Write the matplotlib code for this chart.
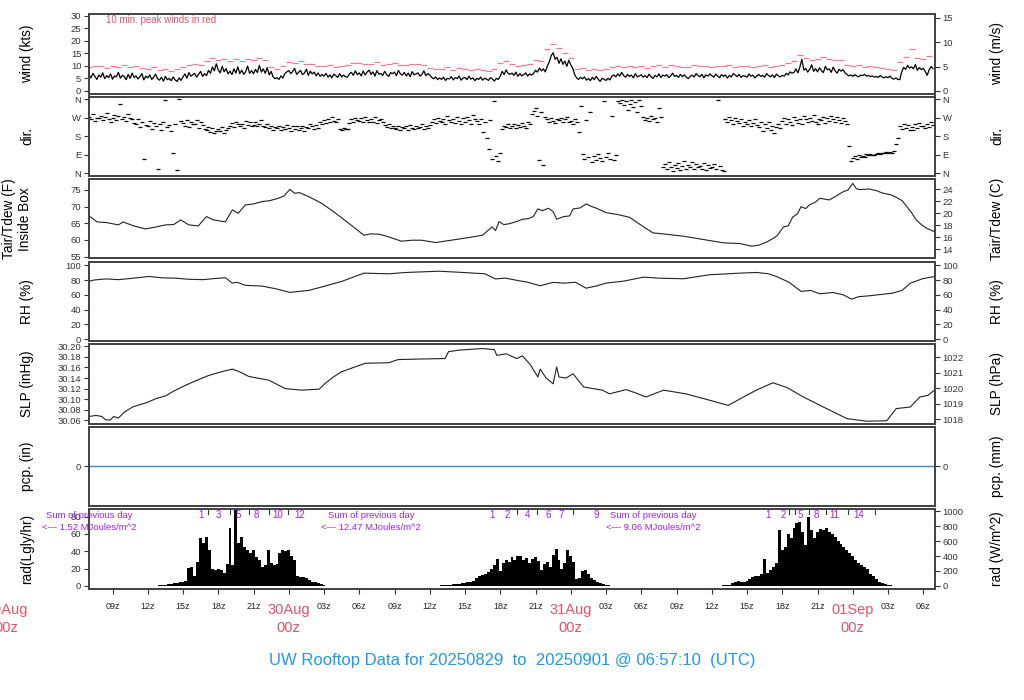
import numpy as np
import matplotlib
matplotlib.use("Agg")
import matplotlib.pyplot as plt
from matplotlib.transforms import blended_transform_factory as btf

plt.rcParams['font.family'] = ['Liberation Sans', 'DejaVu Sans']

# ---------------- data (hours since 29Aug 00z) ----------------
wind_start = 7.0          # 10-minute samples
wind_kts = [
    6.5, 5.2, 7.0, 5.8, 4.6, 6.3,  5.5, 7.2, 4.9, 6.1, 5.3, 6.8,
    4.7, 6.0, 5.6, 7.4, 5.1, 6.2,  5.8, 4.5, 6.6, 5.0, 7.1, 5.4,
    6.0, 4.8, 5.7, 6.9, 4.4, 5.9,  5.2, 6.4, 4.6, 5.5, 6.7, 4.9,
    4.3, 5.4, 3.9, 5.8, 4.5, 5.0,  4.1, 5.6, 4.4, 3.8, 5.2, 4.2,
    5.6, 6.8, 5.1, 7.3, 5.9, 6.4,  7.0, 5.5, 6.7, 7.8, 5.8, 6.9,
    6.1, 8.2, 7.0, 9.5, 8.0, 10.8, 8.4, 7.2, 9.8, 7.6, 8.9, 6.8,
    7.9, 6.5, 8.8, 7.1, 9.6, 6.9,  8.3, 6.6, 7.7, 9.9, 7.0, 8.1,
    6.8, 8.6, 7.3, 10.2, 7.5, 8.8, 7.0, 9.3, 6.4, 7.8, 5.6, 4.9,
    5.3, 4.6, 6.0, 5.1, 6.9, 7.6,  8.1, 6.9, 7.7, 9.0, 6.6, 7.4,
    8.2, 6.5, 7.1, 8.7, 6.2, 7.9,  6.8, 7.5, 6.0, 7.2, 5.8, 6.6,
    5.9, 7.0, 5.5, 6.4, 5.2, 6.7,  6.1, 5.4, 6.9, 5.6, 6.3, 5.7,
    5.5, 6.8, 7.4, 6.2, 8.0, 6.5,  7.2, 6.0, 7.9, 6.4, 7.5, 8.3,
    6.6, 7.6, 5.9, 8.1, 6.7, 7.0,  6.2, 7.8, 6.5, 5.8, 7.3, 6.9,
    7.5, 6.1, 8.2, 6.8, 6.3, 7.4,  6.0, 7.1, 5.7, 7.7, 6.4, 6.8,
    7.2, 5.9, 6.6, 8.0, 6.1, 6.9,  6.3, 5.4, 4.8, 5.6, 4.5, 5.2,
    4.6, 5.5, 4.2, 5.0, 4.8, 5.7,  4.4, 5.3, 4.9, 5.9, 4.3, 5.1,
    5.4, 4.5, 5.8, 4.7, 5.2, 4.1,  5.0, 4.6, 5.5, 4.3, 5.1, 4.7,
    4.2, 5.3, 4.8, 3.9, 5.0, 4.6,  5.9, 7.8, 6.5, 8.4, 7.0, 6.6,
    7.1, 6.2, 7.5, 5.8, 6.9, 6.0,  6.5, 7.2, 5.9, 6.8, 6.3, 7.0,
    8.2, 7.5, 9.1, 8.0, 8.8, 7.6,  9.8, 11.5, 14.0, 15.2, 12.6, 13.4,
    11.0, 12.8, 10.6, 11.9, 9.8, 12.2, 10.4, 9.1, 6.5, 5.2, 4.6, 5.5,
    4.8, 5.6, 4.3, 5.0, 4.1, 5.4,  4.5, 5.8, 4.7, 3.8, 5.1, 4.6,
    4.2, 5.0, 4.4, 5.9, 6.4, 5.6,  6.8, 5.9, 7.4, 6.1, 5.5, 6.6,
    5.8, 6.3, 5.2, 6.9, 5.6, 6.0,  6.4, 5.5, 6.1, 5.3, 6.7, 5.7,
    5.0, 6.2, 5.6, 6.8, 5.4, 6.3,  5.9, 6.5, 5.3, 6.0, 7.1, 5.8,
    6.2, 5.4, 6.6, 5.7, 6.4, 5.5,  4.9, 5.8, 6.3, 5.6, 6.9, 6.1,
    5.7, 6.6, 5.2, 6.4, 5.9, 6.8,  6.1, 5.5, 6.7, 6.0, 5.3, 6.5,
    5.8, 6.4, 5.1, 6.2, 5.6, 6.9,  6.3, 5.7, 6.6, 5.4, 6.1, 5.9,
    5.5, 6.8, 5.9, 6.3, 5.2, 6.0,  6.6, 5.8, 6.2, 5.5, 6.9, 6.1,
    5.7, 6.4, 5.3, 6.7, 6.0, 5.6,  6.2, 5.9, 7.0, 6.4, 7.6, 7.1,
    7.4, 8.8, 7.2, 9.5, 12.6, 8.3, 9.0, 7.5, 8.6, 10.4, 7.8, 8.9,
    7.6, 9.2, 8.1, 7.3, 9.8, 8.4,  8.8, 7.4, 9.5, 8.0, 7.1, 8.6,
    7.9, 8.5, 7.2, 6.6, 6.0, 6.4,  5.8, 6.5, 6.0, 5.6, 6.3, 6.1,
    6.6, 5.9, 6.2, 5.7, 6.0, 5.5,  5.8, 5.4, 6.1, 5.6, 5.2, 5.7,
    5.3, 5.9, 5.0, 4.7, 5.2, 4.6,  4.5, 7.6, 9.4, 8.6, 10.2, 9.1,
    9.6, 8.8, 10.5, 8.2, 9.3, 8.5, 9.0, 7.8, 6.2, 8.4, 9.7, 8.9,
]
gust_start = 7.0          # 30-minute peaks
gust_kts = [
    9.5, 10.0, 9.8, 9.2, 10.1, 9.6, 10.3, 9.4, 9.9, 9.1, 8.9, 9.5,
    8.4, 8.8, 8.0, 8.6, 9.6, 10.4, 10.8, 10.2, 11.9, 13.0, 12.4, 12.8,
    11.8, 12.6, 12.1, 12.9, 12.5, 13.0, 12.2, 9.6, 8.8, 10.1, 11.5, 11.0,
    11.8, 10.9, 10.6, 10.1, 9.8, 10.2, 9.4, 9.9, 10.3, 11.2, 11.0, 10.8,
    10.7, 11.4, 10.5, 10.9, 11.1, 10.4, 10.2, 10.8, 10.9, 10.3, 9.2, 8.6,
    8.9, 9.4, 8.5, 9.0, 8.8, 8.3, 8.7, 8.2, 8.1, 8.6, 11.3, 11.8,
    10.6, 10.1, 10.4, 10.9, 12.4, 12.0, 16.5, 18.6, 17.2, 15.1, 13.2, 8.6,
    9.0, 8.4, 8.8, 8.5, 8.7, 9.6, 10.1, 9.6, 9.9, 9.4, 10.0, 9.3,
    9.8, 10.2, 9.6, 10.5, 9.9, 9.5, 9.7, 10.3, 10.1, 9.8, 9.6, 10.0,
    9.9, 10.2, 9.5, 9.8, 10.1, 9.6, 9.8, 10.3, 9.4, 9.9, 10.3, 11.0,
    12.0, 14.2, 13.0, 12.5, 12.8, 13.4, 12.6, 12.2, 12.4, 10.5, 9.8, 10.2,
    9.6, 10.0, 9.4, 9.1, 8.8, 8.5, 11.5, 13.6, 16.5, 13.2, 12.8, 14.0,
]
dir_start = 7.0           # 10-minute samples, degrees
wind_dir = [
    275, 262, 290, 255, 270, 268,  280, 258, 272, 295, 265, 250,
    268, 285, 260, 278, 340, 262,  275, 255, 288, 270, 262, 245,
    240, 262, 225, 250, 70, 235,   228, 255, 215, 245, 232, 20,
    240, 210, 250, 355, 225, 235,  205, 100, 240, 15, 360, 255,
    245, 232, 258, 226, 250, 240,  238, 260, 222, 248, 235, 215,
    212, 225, 200, 218, 195, 208,  215, 205, 225, 198, 210, 220,
    232, 245, 225, 250, 238, 228,  240, 222, 255, 235, 248, 230,
    236, 250, 228, 242, 260, 232,  225, 238, 218, 230, 212, 224,
    218, 230, 210, 225, 215, 235,  222, 208, 228, 216, 230, 212,
    220, 232, 205, 226, 218, 240,  228, 215, 236, 222, 250, 238,
    258, 245, 265, 250, 272, 255,  250, 262, 215, 212, 218, 214,
    216, 245, 262, 250, 270, 258,  255, 268, 248, 275, 260, 252,
    262, 250, 272, 245, 258, 265,  248, 235, 225, 240, 218, 230,
    222, 215, 230, 210, 226, 218,  228, 212, 235, 220, 216, 232,
    218, 225, 240, 214, 230, 222,  235, 250, 262, 245, 270, 255,
    248, 265, 240, 280, 258, 250,  262, 245, 275, 255, 238, 268,
    250, 272, 258, 242, 285, 262,  255, 238, 265, 200, 248, 170,
    120, 260, 70, 350, 85, 60,     100, 215, 232, 225, 240, 220,
    228, 242, 218, 236, 225, 245,  232, 220, 250, 238, 290, 305,
    320, 280, 65, 300, 40, 275,    262, 250, 270, 255, 245, 265,
    258, 268, 248, 262, 275, 250,  255, 240, 265, 250, 200, 330,
    95, 70, 260, 80, 300, 55,      85, 65, 95, 75, 60, 350,
    80, 100, 70, 280, 65, 90,      350, 345, 358, 335, 352, 310,
    340, 355, 325, 348, 300, 355,  330, 275, 260, 268, 255, 280,
    262, 270, 250, 320, 275, 30,   45, 20, 55, 30, 10, 40,
    25, 50, 15, 35, 60, 20,        40, 28, 52, 18, 45, 30,
    35, 22, 48, 15, 40, 25,        30, 45, 20, 358, 35, 15,
    10, 265, 250, 275, 258, 240,   268, 255, 245, 262, 232, 250,
    240, 258, 228, 245, 262, 235,  225, 248, 205, 238, 220, 252,
    212, 230, 195, 225, 242, 218,  255, 268, 240, 262, 250, 235,
    272, 258, 245, 265, 238, 280,  262, 248, 270, 255, 285, 250,
    240, 265, 258, 275, 245, 268,  255, 280, 262, 248, 272, 260,
    245, 268, 255, 240, 130, 60,   75, 82, 70, 88, 78, 85,
    80, 92, 86, 95, 88, 90,        94, 98, 92, 100, 96, 102,
    98, 104, 100, 106, 140, 170,   230, 215, 240, 222, 235, 210,
    225, 212, 238, 220, 245, 228,  232, 218, 240, 226, 250, 236,
]
temp_hr = [7.0, 7.7, 8.5, 9.5, 9.9, 10.8, 11.8, 12.6, 13.5, 14.2, 14.8, 15.5,
           16.3, 17.0, 17.6, 18.6, 19.2, 19.7, 20.3, 21.0, 21.7, 22.4, 23.1,
           23.6, 24.1, 24.5, 24.9, 25.7, 26.8, 28.0, 29.1, 30.4, 31.0, 31.7,
           32.5, 33.6, 34.5, 35.3, 36.5, 38.2, 39.5, 40.5, 41.3, 41.6, 41.9,
           42.3, 42.7, 43.3, 43.9, 44.4, 44.8, 45.2, 45.6, 46.1, 46.5, 46.8,
           47.4, 47.9, 48.2, 48.8, 49.3, 49.8, 50.2, 51.0, 52.0, 53.0, 54.2,
           55.0, 56.1, 57.6, 59.3, 61.0, 62.4, 63.4, 64.0, 64.7, 65.3, 65.6,
           66.1, 66.5, 66.9, 67.3, 67.6, 68.0, 68.3, 68.8, 69.2, 70.0, 70.6,
           71.2, 71.6, 72.0, 72.3, 72.6, 73.4, 74.0, 74.6, 75.2, 75.7, 76.2,
           76.6, 77.0, 77.4, 77.9, 78.3, 79.0]
temp_f = [67.2, 65.4, 65.2, 64.5, 65.4, 64.2, 63.3, 63.8, 64.5, 64.6, 66.0, 64.5,
          64.2, 67.0, 66.0, 65.4, 69.0, 68.0, 70.5, 70.8, 71.5, 71.8, 72.5,
          73.2, 75.2, 74.0, 74.2, 73.0, 71.0, 68.0, 65.0, 61.4, 61.8, 61.7,
          60.9, 59.6, 59.9, 59.9, 59.2, 60.1, 60.8, 61.4, 63.9, 62.8, 65.5,
          64.6, 64.8, 65.4, 66.2, 66.4, 67.0, 69.3, 68.8, 69.5, 68.5, 66.2,
          67.0, 67.2, 69.3, 69.6, 70.8, 70.0, 69.5, 68.2, 67.6, 66.8, 63.9,
          62.1, 61.7, 61.1, 60.1, 59.1, 58.9, 58.1, 58.4, 59.4, 60.6, 61.4,
          63.9, 64.2, 66.9, 67.8, 70.0, 69.4, 70.5, 71.3, 72.5, 72.0, 73.2,
          74.5, 75.0, 77.0, 75.4, 75.1, 75.3, 74.8, 74.0, 73.6, 72.8, 71.8,
          70.0, 68.2, 66.0, 64.4, 63.5, 62.4]
rh_hr = [7.0, 7.4, 8.5, 9.5, 10.5, 12.1, 13.2, 14.4, 15.5, 16.7, 17.7, 18.6,
         19.2, 19.6, 20.3, 21.7, 22.9, 24.1, 24.8, 25.7, 26.8, 28.5, 30.4,
         32.5, 34.0, 36.8, 38.8, 40.7, 41.6, 42.4, 43.6, 44.2, 45.4, 46.5,
         47.5, 48.4, 49.3, 50.2, 51.0, 52.5, 54.2, 55.5, 57.6, 59.8, 62.4,
         63.8, 64.8, 65.5, 66.6, 67.6, 68.4, 69.2, 70.3, 71.2, 71.9, 72.5,
         73.4, 75.4, 76.2, 76.9, 78.0, 79.0]
rh_pct = [78.1, 80.0, 81.5, 80.5, 82.0, 84.8, 83.0, 82.5, 81.0, 80.5, 82.0, 83.1,
          75.8, 77.0, 72.8, 71.9, 68.2, 63.3, 64.5, 66.0, 70.6, 78.1, 89.3,
          88.4, 90.2, 91.9, 90.2, 88.4, 81.4, 82.7, 79.0, 77.5, 72.3, 76.8,
          75.8, 77.0, 69.0, 72.0, 75.8, 78.5, 83.9, 82.5, 81.7, 87.1, 89.3,
          90.2, 88.5, 84.8, 76.8, 64.6, 66.0, 61.4, 63.2, 60.0, 54.2, 57.5,
          58.7, 62.3, 66.0, 75.8, 82.0, 84.8]
slp_hr = [7.0, 7.6, 8.1, 8.4, 8.8, 9.1, 9.5, 10.0, 10.7, 11.4, 12.0, 12.7, 13.5,
          14.2, 14.9, 16.0, 17.2, 18.3, 19.2, 19.8, 20.6, 21.3, 22.3, 23.0,
          23.7, 25.1, 26.6, 27.1, 27.8, 28.5, 29.5, 30.5, 32.5, 33.3, 35.0,
          37.3, 37.6, 38.5, 40.5, 41.5, 41.7, 42.5, 43.4, 43.9, 44.6, 45.2,
          45.4, 45.9, 46.5, 46.8, 47.0, 47.6, 48.2, 49.1, 50.7, 51.3, 52.7,
          53.5, 54.4, 55.9, 57.8, 59.8, 61.4, 62.7, 63.8, 65.2, 66.4, 67.8,
          69.5, 71.5, 73.2, 74.9, 75.7, 76.9, 77.7, 78.4, 79.0]
slp_inhg = [30.067, 30.069, 30.067, 30.061, 30.060, 30.067, 30.064, 30.075,
            30.085, 30.090, 30.094, 30.101, 30.106, 30.115, 30.123, 30.134,
            30.145, 30.152, 30.157, 30.152, 30.143, 30.140, 30.136, 30.128,
            30.120, 30.117, 30.119, 30.130, 30.142, 30.152, 30.160, 30.168,
            30.169, 30.175, 30.176, 30.177, 30.190, 30.193, 30.196, 30.194,
            30.183, 30.186, 30.177, 30.182, 30.164, 30.142, 30.157, 30.140,
            30.129, 30.161, 30.142, 30.140, 30.148, 30.123, 30.117, 30.110,
            30.118, 30.112, 30.104, 30.117, 30.110, 30.098, 30.088, 30.104,
            30.117, 30.131, 30.122, 30.104, 30.085, 30.063, 30.058, 30.059,
            30.082, 30.085, 30.104, 30.107, 30.118]
pcp_hr = [7.0, 79.0]
pcp_in = [0.0, 0.0]
rad_starts = [13.0, 37.0, 61.0]      # 15-minute samples
rad_day1 = [0.5, 1, 1.5, 2, 2.5, 3, 3.5, 4, 5, 6, 21, 22, 12, 28, 55, 50, 57, 42,
            20, 18, 19, 18, 15, 25, 67, 24, 88, 50, 56, 45, 42, 38, 41, 33, 30,
            22, 24, 42, 26, 24, 25, 38, 42, 40, 41, 35, 30, 12, 10, 10, 9, 7, 5,
            4, 3, 2, 1]
rad_day2 = [0.5, 1, 1, 1.5, 2, 2, 2.5, 3, 3, 4, 5, 6, 9, 12, 13, 14, 16, 20, 24,
            31, 17, 26, 30, 28, 33, 30, 35, 34, 30, 32, 27, 31, 33, 29, 18, 25,
            28, 22, 36, 43, 30, 20, 26, 42, 35, 28, 8, 9, 17, 18, 14, 9, 7, 5,
            3, 2, 1, 0.5]
rad_day3 = [0.5, 1, 1.5, 3, 5, 6, 5, 5, 6, 8, 10, 12, 12, 14, 31, 15, 18, 22, 26,
            64, 41, 45, 60, 55, 67, 73, 74, 62, 47, 79, 64, 55, 62, 66, 64, 67,
            62, 60, 57, 52, 48, 45, 41, 38, 35, 30, 26, 24, 22, 20, 14, 11, 8,
            5, 3, 2, 1, 0.5]
cum_hr = [[16.5, 17.1, 18.0, 19.0, 19.7, 20.6, 21.2, 22.3, 23.1, 23.9, 24.9],
          [41.3, 42.6, 43.4, 44.3, 45.1, 46.1, 47.2, 48.2, 50.2],
          [64.8, 66.1, 66.6, 67.1, 67.5, 68.3, 68.9, 69.7, 70.4, 71.6, 72.5, 73.9]]
cum_lab = [['1', "'", '3', "'", '5', "'", '8', "'", '10', "'", '12'],
           ['1', '2', "'", '4', "'", '6', '7', "'", '9'],
           ['1', '2', "'", "'", '5', "'", '8', "'", '11', "'", '14', "'"]]
sum_hr = [7.0, 31.0, 55.0]
sum_mj = ['1.52', '12.47', '9.06']
hour_ticks = [9, 12, 15, 18, 21, 27, 30, 33, 36, 39, 42, 45, 51, 54, 57, 60,
              63, 66, 69, 75, 78]
hour_labels = ['09z', '12z', '15z', '18z', '21z', '03z', '06z', '09z', '12z',
               '15z', '18z', '21z', '03z', '06z', '09z', '12z', '15z', '18z',
               '21z', '03z', '06z']
day_hr = [0, 24, 48, 72]
day_labels = ['29Aug', '30Aug', '31Aug', '01Sep']
long_ticks = [12, 24, 36, 48, 60, 72]

# ---------------- layout ----------------
W, H = 1024, 700
fig = plt.figure(figsize=(W / 100, H / 100), dpi=100)
X0, X1 = 89, 935
TOPS = [14, 96.5, 179, 261.5, 344, 426.5, 509]
PH = 79.5
XMIN, XMAX = 7.0, 79.0
RED = '#DF536B'
PURPLE = '#A020F0'
BLUE = '#2297E6'
FRAME = '#444444'
TICKC = '#333333'


def fy(y):
    return 1 - y / H


def style(ax):
    for s in ax.spines.values():
        s.set_color(FRAME)
        s.set_linewidth(1.3)
    ax.tick_params(axis='y', direction='out', length=3.5, width=0.8,
                   colors=TICKC, labelsize=6.8, pad=2)


axes = []
for top in TOPS:
    ax = fig.add_axes([X0 / W, 1 - (top + PH) / H, (X1 - X0) / W, PH / H])
    ax.set_xlim(XMIN, XMAX)
    ax.set_xticks([])
    style(ax)
    axes.append(ax)


def right_axis(ax, pos, labels):
    r = ax.twinx()
    r.set_ylim(ax.get_ylim())
    r.set_yticks(pos)
    r.set_yticklabels(labels)
    r.set_xlim(XMIN, XMAX)
    style(r)
    return r


def ylabels(i, left, right, lx=27.5):
    yc = fy(TOPS[i] + PH / 2)
    fig.text(lx / W, yc, left, rotation=90, ha='center', va='center',
             fontsize=9.8, color='black', linespacing=1.15)
    fig.text(997.5 / W, yc, right, rotation=90, ha='center', va='center',
             fontsize=9.8, color='black')


# 1 wind
ax = axes[0]
wt = wind_start + np.arange(len(wind_kts)) / 6.0
gt = gust_start + np.arange(len(gust_kts)) / 2.0
ax.plot(wt, wind_kts, color='black', lw=0.9)
ax.plot(gt, gust_kts, ls='none', marker='_', ms=4, mew=0.9, color='#EE7A90')
ax.set_ylim(-1.0, 30.6)
ax.set_yticks([0, 5, 10, 15, 20, 25, 30])
right_axis(ax, [v * 1.94384 for v in [0, 5, 10, 15]], ['0', '5', '10', '15'])
fig.text(106 / W, fy(23), '10 min. peak winds in red', fontsize=7,
         color=RED, ha='left', va='baseline')
ylabels(0, 'wind (kts)', 'wind (m/s)')

# 2 direction
ax = axes[1]
dt = dir_start + np.arange(len(wind_dir)) / 6.0
ax.plot(dt, wind_dir, ls='none', marker='_', ms=3.0, mew=0.9, color='black')
ax.set_ylim(-14.4, 374.4)
ax.set_yticks([0, 90, 180, 270, 360])
ax.set_yticklabels(['N', 'E', 'S', 'W', 'N'])
right_axis(ax, [0, 90, 180, 270, 360], ['N', 'E', 'S', 'W', 'N'])
ylabels(1, 'dir.', 'dir.')

# 3 temperature
ax = axes[2]
ax.plot(temp_hr, temp_f, color='#222222', lw=0.8)
ax.set_ylim(54.4, 78.3)
ax.set_yticks([55, 60, 65, 70, 75])
right_axis(ax, [c * 9 / 5 + 32 for c in [14, 16, 18, 20, 22, 24]],
           ['14', '16', '18', '20', '22', '24'])
ylabels(2, 'Tair/Tdew (F)\nInside Box', 'Tair/Tdew (C)', lx=17)

# 4 RH
ax = axes[3]
ax.plot(rh_hr, rh_pct, color='#222222', lw=0.8)
ax.set_ylim(-2.3, 105)
ax.set_yticks([0, 20, 40, 60, 80, 100])
right_axis(ax, [0, 20, 40, 60, 80, 100], ['0', '20', '40', '60', '80', '100'])
ylabels(3, 'RH (%)', 'RH (%)')

# 5 SLP
ax = axes[4]
ax.plot(slp_hr, slp_inhg, color='#222222', lw=0.8)
ax.set_ylim(30.0537, 30.2046)
st = [30.06, 30.08, 30.10, 30.12, 30.14, 30.16, 30.18, 30.20]
ax.set_yticks(st)
ax.set_yticklabels(['%.2f' % v for v in st])
right_axis(ax, [h / 33.8639 for h in [1018, 1019, 1020, 1021, 1022]],
           ['1018', '1019', '1020', '1021', '1022'])
ylabels(4, 'SLP (inHg)', 'SLP (hPa)')

# 6 precipitation
ax = axes[5]
ax.plot(pcp_hr, pcp_in, color='#3A8BD0', lw=1.0)
ax.set_ylim(-1, 1)
ax.set_yticks([0])
right_axis(ax, [0], ['0'])
ylabels(5, 'pcp. (in)', 'pcp. (mm)')

# 7 radiation
ax = axes[6]
for st0, vals in zip(rad_starts, [rad_day1, rad_day2, rad_day3]):
    t = st0 + np.arange(len(vals)) * 0.25
    ax.bar(t, vals, width=0.25, color='black', linewidth=0, align='center')
ax.set_ylim(-3, 88.8)
ax.set_yticks([0, 20, 40, 60, 80])
right_axis(ax, [w / 11.622 for w in [0, 200, 400, 600, 800, 1000]],
           ['0', '200', '400', '600', '800', '1000'])
ylabels(6, 'rad(Lgly/hr)', 'rad (W/m^2)')

tr_top = btf(ax.transData, fig.transFigure)
for hrs, labs in zip(cum_hr, cum_lab):
    for h, lab in zip(hrs, labs):
        if lab == "'":
            ax.plot([h, h], [fy(509.5), fy(513.5)], transform=tr_top,
                    color='#333333', lw=0.8, clip_on=False)
        else:
            ax.text(h, fy(518.5), lab, transform=tr_top, ha='center',
                    va='baseline', fontsize=7, color=PURPLE)
for h, mj in zip(sum_hr, sum_mj):
    ax.text(h, fy(518.5), 'Sum of previous day', transform=tr_top,
            ha='center', va='baseline', fontsize=6.8, color=PURPLE, clip_on=False)
    ax.text(h, fy(529.5), '<--- %s MJoules/m^2' % mj, transform=tr_top,
            ha='center', va='baseline', fontsize=6.8, color=PURPLE, clip_on=False)

# x axis of bottom panel
ax.set_xticks(hour_ticks + [24, 48, 72])
ax.set_xticklabels([])
ax.set_xticks(long_ticks, minor=True)
ax.tick_params(axis='x', which='major', direction='out', length=3.5,
               width=0.8, colors=TICKC)
ax.tick_params(axis='x', which='minor', direction='out', length=6.5,
               width=0.8, colors=TICKC)
ax.set_xlim(XMIN, XMAX)
for h, lab in zip(hour_ticks, hour_labels):
    ax.text(h, fy(609), lab, transform=tr_top, ha='center', va='baseline',
            fontsize=6.5, color='#222222', clip_on=False)
for h, lab in zip(day_hr, day_labels):
    ax.text(h, fy(614), lab, transform=tr_top, ha='center', va='baseline',
            fontsize=10.5, color=RED, clip_on=False)
    ax.text(h, fy(631.5), '00z', transform=tr_top, ha='center', va='baseline',
            fontsize=10.5, color=RED, clip_on=False)

fig.text(0.5, fy(665.5),
         'UW Rooftop Data for 20250829  to  20250901 @ 06:57:10  (UTC)',
         ha='center', va='baseline', fontsize=12, color=BLUE)

fig.savefig('out.png', dpi=100)
